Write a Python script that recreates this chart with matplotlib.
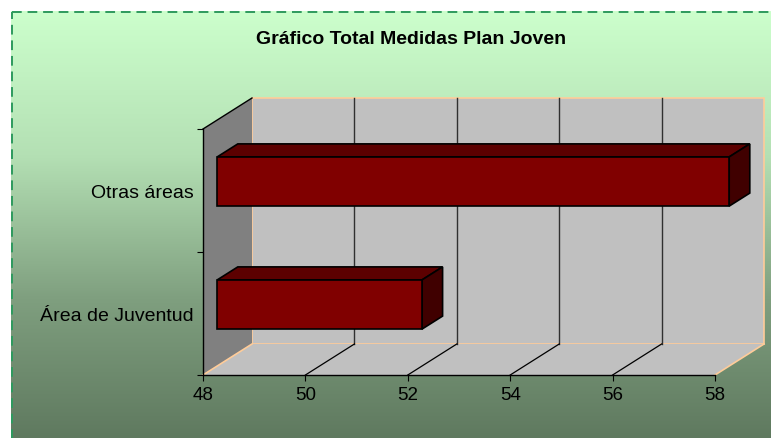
import numpy as np
import matplotlib
matplotlib.use('Agg')
import matplotlib.pyplot as plt
import matplotlib.transforms as mtransforms
from matplotlib.colors import LinearSegmentedColormap
from matplotlib.patches import Polygon, Rectangle

plt.rcParams['font.family'] = ['Liberation Sans', 'DejaVu Sans']

title = 'Gráfico Total Medidas Plan Joven'
categories = ['Área de Juventud', 'Otras áreas']
values = [52, 58]
x_min, x_max = 48, 58
x_ticks = [48, 50, 52, 54, 56, 58]

W, H = 771, 439
fig = plt.figure(figsize=(W / 100, H / 100), dpi=100)
fig.patch.set_facecolor('white')

# background gradient of the chart area
bg = fig.add_axes([0, 0, 1, 1], zorder=0)
bg.set_xlim(0, W)
bg.set_ylim(H, 0)
bg.axis('off')
cmap = LinearSegmentedColormap.from_list('bg', ['#ccffcc', '#b4e0b4', '#7f9f7f', '#5e785e'])
grad = np.linspace(0, 1, 256).reshape(-1, 1)
bg.imshow(grad, cmap=cmap, extent=[11, W + 5, H + 5, 12], aspect='auto', zorder=0)
bg.add_patch(Rectangle((11.5, 12.5), W, H, fill=False, edgecolor='#2e9a5e',
                       lw=1.4, linestyle=(0, (5, 3)), zorder=1))
bg.text(411, 40, title, ha='center', va='center', fontsize=14, fontweight='bold')

# front plane of the 3d chart
ax = fig.add_axes([203 / W, (H - 376) / H, (715 - 203) / W, (376 - 130) / H], zorder=1)
ax.patch.set_visible(False)
ax.set_xlim(x_min, x_max)
ax.set_ylim(0, len(categories))
for s in ['top', 'right']:
    ax.spines[s].set_visible(False)
ax.spines['left'].set_linewidth(1)
ax.spines['bottom'].set_linewidth(1)
ax.set_xticks(x_ticks)
ax.set_xticklabels([str(t) for t in x_ticks], fontsize=13.5)
ax.set_yticks(np.arange(len(categories) + 1))
ax.set_yticklabels([])
ax.set_yticks(np.arange(len(categories)) + 0.5, minor=True)
ax.set_yticklabels(categories, minor=True, fontsize=14)
ax.tick_params(axis='y', which='minor', length=0, pad=7)
ax.tick_params(axis='y', which='major', length=4, direction='out')
ax.tick_params(axis='x', length=4, direction='out', pad=4)

DX, DY = 49, 31  # depth of the walls in pixels


def shifted(frac):
    return ax.transData + mtransforms.Affine2D().translate(DX * frac, DY * frac)


front = ax.transData
back = shifted(1.0)
n = len(categories)


def poly(pts, **kw):
    ax.add_patch(Polygon(pts, closed=True, clip_on=False, **kw))


fig.canvas.draw()
p = lambda tr, x, y: tr.transform((x, y))
ident = mtransforms.IdentityTransform()

# walls
wall_back = [p(back, x_min, 0), p(back, x_max, 0), p(back, x_max, n), p(back, x_min, n)]
wall_left = [p(front, x_min, 0), p(back, x_min, 0), p(back, x_min, n), p(front, x_min, n)]
floor = [p(front, x_min, 0), p(front, x_max, 0), p(back, x_max, 0), p(back, x_min, 0)]
poly(wall_back, transform=ident, facecolor='#c0c0c0', edgecolor='#ffcc99', lw=1.2, zorder=0.5)
poly(wall_left, transform=ident, facecolor='#808080', edgecolor='none', zorder=0.6)
poly(floor, transform=ident, facecolor='#c0c0c0', edgecolor='none', zorder=0.6)

ax.add_line(plt.Line2D(*zip(p(front, x_min, n), p(back, x_min, n)), transform=ident,
                       color='black', lw=1, zorder=0.7, clip_on=False))
for xa in (x_min, x_max):
    ax.add_line(plt.Line2D(*zip(p(front, xa, 0), p(back, xa, 0)), transform=ident,
                           color='#ffcc99', lw=1.2, zorder=0.7, clip_on=False))
# gridlines on back wall and floor
for t in x_ticks[1:-1]:
    ax.add_line(plt.Line2D(*zip(p(back, t, 0), p(back, t, n)), transform=ident,
                           color='#303030', lw=1, zorder=0.7, clip_on=False))
    ax.add_line(plt.Line2D(*zip(p(front, t, 0), p(back, t, 0)), transform=ident,
                           color='black', lw=0.9, zorder=0.7, clip_on=False))

# 3d bars
bar_h = 0.4
f0, f1 = 0.29, 0.71
for i, v in enumerate(values):
    y0 = i + 0.5 - bar_h / 2
    y1 = y0 + bar_h
    bf = shifted(f0)
    bb = shifted(f1)
    top = [p(bf, x_min, y1), p(bf, v, y1), p(bb, v, y1), p(bb, x_min, y1)]
    side = [p(bf, v, y0), p(bb, v, y0), p(bb, v, y1), p(bf, v, y1)]
    poly(top, transform=ident, facecolor='#5c0000', edgecolor='black', lw=1.2, zorder=2)
    poly(side, transform=ident, facecolor='#400000', edgecolor='black', lw=1.2, zorder=2)
    ax.barh(i + 0.5, v - x_min, left=x_min, height=bar_h, color='#800000',
            edgecolor='black', lw=1.2, transform=bf, zorder=3, clip_on=False)

fig.savefig('out.png', dpi=100)
